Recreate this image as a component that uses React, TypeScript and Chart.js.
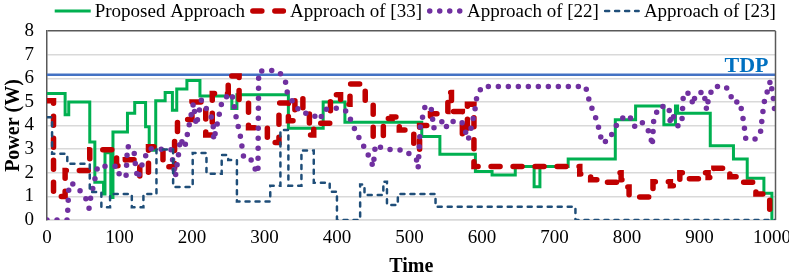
import React, { useEffect, useRef } from "react";
import { Chart, registerables } from "chart.js";

Chart.register(...registerables);

// ---- data ----
const xTickValues = [0, 100, 200, 300, 400, 500, 600, 700, 800, 900, 1000];
const xMax = 1005;
const tdpValue = 6.15;

const proposedTime = [0, 25, 30, 59, 66, 78, 80, 88, 91, 111, 121, 136, 141, 150, 163, 173, 179, 193, 211, 255, 262, 333, 381, 411, 517, 542, 591, 614, 646, 672, 680, 719, 784, 812, 851, 867, 870, 915, 947, 966, 989, 1000];
const proposedPower = [5.35, 4.45, 5.0, 3.3, 1.6, 1.1, 2.85, 0.95, 3.73, 4.52, 4.97, 3.95, 2.95, 5.05, 5.4, 4.65, 5.55, 5.9, 5.25, 4.72, 5.3, 3.88, 5.0, 4.14, 3.53, 2.78, 2.05, 1.9, 2.26, 1.41, 2.26, 2.58, 4.24, 4.83, 4.03, 4.83, 4.52, 3.14, 2.58, 1.77, 1.13, 0];

const ref33Time = [0, 9, 25, 59, 96, 108, 128, 140, 160, 176, 180, 200, 219, 228, 250, 265, 278, 304, 320, 333, 342, 353, 362, 368, 391, 405, 418, 439, 450, 464, 476, 486, 506, 514, 529, 540, 553, 558, 573, 580, 589, 735, 750, 763, 786, 792, 797, 803, 836, 860, 873, 878, 905, 912, 920, 942, 958, 978, 997];
const ref33Power = [5.05, 1.0, 2.1, 2.97, 2.3, 2.55, 1.85, 3.1, 2.25, 3.6, 4.25, 5.0, 3.6, 5.35, 6.1, 5.0, 3.9, 3.28, 4.95, 4.2, 5.2, 4.5, 3.6, 4.1, 5.3, 4.9, 5.76, 5.0, 3.5, 4.3, 4.36, 3.81, 2.97, 4.0, 4.5, 4.59, 5.4, 4.59, 3.6, 4.9, 2.26, 1.95, 1.7, 1.6, 2.0, 1.7, 1.4, 0.97, 1.62, 1.45, 2.0, 1.75, 2.0, 1.8, 2.19, 1.83, 1.6, 1.1, 0.2];

const ref22Time = [0, 28, 30, 33, 42, 50, 55, 58, 60, 70, 97, 100, 109, 111, 120, 121, 125, 133, 141, 171, 177, 181, 184, 190, 202, 206, 213, 229, 230, 242, 255, 262, 266, 271, 280, 285, 291, 292, 303, 317, 324, 329, 331, 340, 351, 363, 377, 381, 393, 404, 414, 425, 432, 441, 450, 453, 466, 494, 510, 512, 515, 522, 531, 533, 545, 550, 554, 572, 579, 581, 584, 590, 593, 600, 743, 749, 759, 766, 775, 786, 798, 809, 811, 821, 832, 835, 837, 844, 858, 860, 862, 871, 876, 878, 885, 892, 894, 906, 910, 913, 920, 936, 943, 945, 956, 961, 964, 977, 984, 989, 998, 1002, 1005];
const ref22Power = [0, 0, 1.3, 1.57, 1.4, 1.05, 0.84, 0.5, 0.9, 2.27, 2.27, 1.89, 1.82, 3.12, 2.95, 2.55, 1.74, 2.52, 3.02, 2.98, 1.82, 2.67, 3.45, 3.06, 4.94, 4.0, 5.08, 4.23, 3.38, 5.1, 5.36, 4.17, 3.7, 2.71, 2.68, 2.26, 1.98, 6.29, 6.33, 6.33, 6.14, 5.86, 5.44, 4.94, 4.52, 4.52, 4.24, 4.66, 4.73, 4.73, 4.59, 3.81, 3.39, 2.9, 2.26, 3.18, 3.0, 2.95, 2.54, 2.19, 3.95, 4.87, 4.66, 3.88, 4.17, 3.88, 4.17, 4.17, 3.6, 3.39, 3.74, 4.59, 5.22, 5.65, 5.65, 4.94, 4.17, 3.25, 3.39, 4.03, 4.45, 4.24, 3.93, 4.13, 3.67, 3.14, 4.24, 4.8, 4.8, 4.03, 4.52, 3.95, 4.24, 5.37, 5.37, 4.87, 5.3, 5.44, 4.66, 5.23, 5.65, 5.65, 5.37, 5.0, 5.0, 4.17, 3.43, 3.43, 3.63, 4.94, 5.9, 5.16, 4.31];

const ref23Time = [0, 7, 28, 59, 75, 87, 117, 133, 151, 174, 201, 220, 241, 250, 262, 308, 322, 333, 351, 368, 390, 400, 432, 438, 464, 469, 484, 536, 729, 1005];
const ref23Power = [4.35, 2.8, 2.38, 1.18, 0.54, 1.1, 0.54, 1.1, 2.98, 1.4, 2.84, 1.96, 2.75, 2.54, 0.78, 1.45, 3.81, 1.45, 2.94, 1.58, 1.2, 0, 1.5, 1.06, 1.62, 0.64, 1.1, 0.56, 0, 0];

const seriesLabels = ["Proposed Approach", "Approach of [33]", "Approach of [22]", "Approach of [23]"];

const pts = (t: number[], v: number[]) => t.map((x, i) => ({ x, y: v[i] }));

const FONT = "'Liberation Serif', 'Times New Roman', serif";

const legendPlugin = {
  id: "customLegend",
  afterDraw(chart: any) {
    const { ctx, chartArea } = chart;
    const sampleW = 36;
    const sampleGap = 4;
    const itemGap = 5;
    const y = 11;
    ctx.save();
    ctx.font = `19px ${FONT}`;
    const items = chart.data.datasets.filter((d: any) => !d.noLegend);
    const widths = items.map((d: any) => ctx.measureText(d.label).width);
    const total = items.reduce((s: number, _d: any, i: number) => s + sampleW + sampleGap + widths[i], 0) + itemGap * (items.length - 1);
    let x = (chartArea.left + chartArea.right) / 2 + 4 - total / 2;
    items.forEach((d: any, i: number) => {
      ctx.save();
      ctx.strokeStyle = d.borderColor;
      ctx.lineWidth = d.borderWidth;
      ctx.lineCap = d.borderCapStyle || "butt";
      ctx.setLineDash(d.borderDash || []);
      const inset = d.borderCapStyle === "round" ? d.borderWidth / 2 : 0;
      ctx.beginPath();
      ctx.moveTo(x + inset, y);
      ctx.lineTo(x + sampleW - inset, y);
      ctx.stroke();
      ctx.restore();
      x += sampleW + sampleGap;
      ctx.fillStyle = "#000";
      ctx.textBaseline = "alphabetic";
      ctx.textAlign = "left";
      ctx.fillText(d.label, x, y + 6);
      x += widths[i] + itemGap;
    });
    ctx.restore();
  },
};

const framePlugin = {
  id: "frame",
  afterDatasetsDraw(chart: any) {
    const { ctx, chartArea, scales } = chart;
    ctx.save();
    ctx.strokeStyle = "#595959";
    ctx.lineWidth = 1.5;
    ctx.beginPath();
    ctx.moveTo(chartArea.right, chartArea.top);
    ctx.lineTo(chartArea.right, chartArea.bottom);
    ctx.stroke();
    const yPix = scales.y.getPixelForValue(tdpValue);
    ctx.font = `bold 22px ${FONT}`;
    ctx.fillStyle = "#0070C0";
    ctx.textAlign = "right";
    ctx.textBaseline = "alphabetic";
    ctx.fillText("TDP", chartArea.right - 7, yPix - 3);
    ctx.restore();
  },
};

export default function App() {
  const ref = useRef<HTMLCanvasElement | null>(null);
  useEffect(() => {
    document.body.style.margin = "0";
    const canvas = ref.current;
    if (!canvas) return;
    const chart = new Chart(canvas, {
      type: "line",
      data: {
        datasets: [
          {
            label: seriesLabels[0],
            data: pts(proposedTime, proposedPower),
            borderColor: "#00B050",
            borderWidth: 3,
            stepped: "before",
            pointRadius: 0,
            order: 4,
          },
          {
            label: seriesLabels[1],
            data: pts(ref33Time, ref33Power),
            borderColor: "#C00000",
            borderWidth: 5.5,
            borderDash: [9, 13],
            borderCapStyle: "round",
            stepped: "before",
            pointRadius: 0,
            order: 3,
          },
          {
            label: seriesLabels[2],
            data: pts(ref22Time, ref22Power),
            borderColor: "#7030A0",
            borderWidth: 5.5,
            borderDash: [0, 10],
            borderCapStyle: "round",
            pointRadius: 0,
            tension: 0,
            order: 2,
          },
          {
            label: seriesLabels[3],
            data: pts(ref23Time, ref23Power),
            borderColor: "#1F4E79",
            borderWidth: 2.5,
            borderDash: [4, 6],
            borderCapStyle: "round",
            stepped: "before",
            pointRadius: 0,
            order: 1,
          },
          {
            label: "TDP",
            noLegend: true,
            data: [
              { x: 0, y: tdpValue },
              { x: xMax, y: tdpValue },
            ],
            borderColor: "#4472C4",
            borderWidth: 2.5,
            pointRadius: 0,
            order: 5,
          } as any,
        ],
      },
      options: {
        responsive: false,
        animation: false,
        events: [],
        layout: { padding: { top: 31, right: 13.5, left: 0, bottom: 0 } },
        plugins: { legend: { display: false }, tooltip: { enabled: false } },
        scales: {
          x: {
            type: "linear",
            min: 0,
            max: xMax,
            afterBuildTicks: (axis: any) => {
              axis.ticks = xTickValues.map((v) => ({ value: v }));
            },
            afterFit: (scale: any) => {
              scale.height = 57;
              scale.paddingLeft = 0;
              scale.paddingRight = 0;
            },
            grid: { display: false, drawTicks: false },
            border: { display: true, color: "#d9d9d9", width: 1.5 },
            ticks: {
              padding: 7,
              maxRotation: 0,
              autoSkip: false,
              color: "#000",
              font: { family: FONT, size: 19 },
              callback: (v: any) => String(v),
            },
            title: {
              display: true,
              text: "Time",
              color: "#000",
              padding: { top: 0, bottom: 0 },
              font: { family: FONT, size: 20, weight: "bold", lineHeight: 1 },
            },
          },
          y: {
            min: 0,
            max: 8,
            afterFit: (scale: any) => {
              scale.width = 47;
              scale.paddingTop = 0;
              scale.paddingBottom = 0;
            },
            grid: {
              drawTicks: false,
              lineWidth: 1.5,
              color: (c: any) => (c.tick && c.tick.value === 8 ? "#595959" : "#d9d9d9"),
            },
            border: { display: true, color: "#595959", width: 1.5 },
            ticks: {
              stepSize: 1,
              autoSkip: false,
              padding: 13,
              color: "#000",
              font: { family: FONT, size: 19 },
              callback: (v: any) => String(v),
            },
            title: {
              display: true,
              text: "Power (W)",
              color: "#000",
              padding: { top: 2, bottom: 0 },
              font: { family: FONT, size: 20, weight: "bold" },
            },
          },
        },
      },
      plugins: [legendPlugin, framePlugin],
    } as any);
    return () => chart.destroy();
  }, []);
  return (
    <div style={{ width: 789, height: 277 }}>
      <canvas ref={ref} width={789} height={277} />
    </div>
  );
}
